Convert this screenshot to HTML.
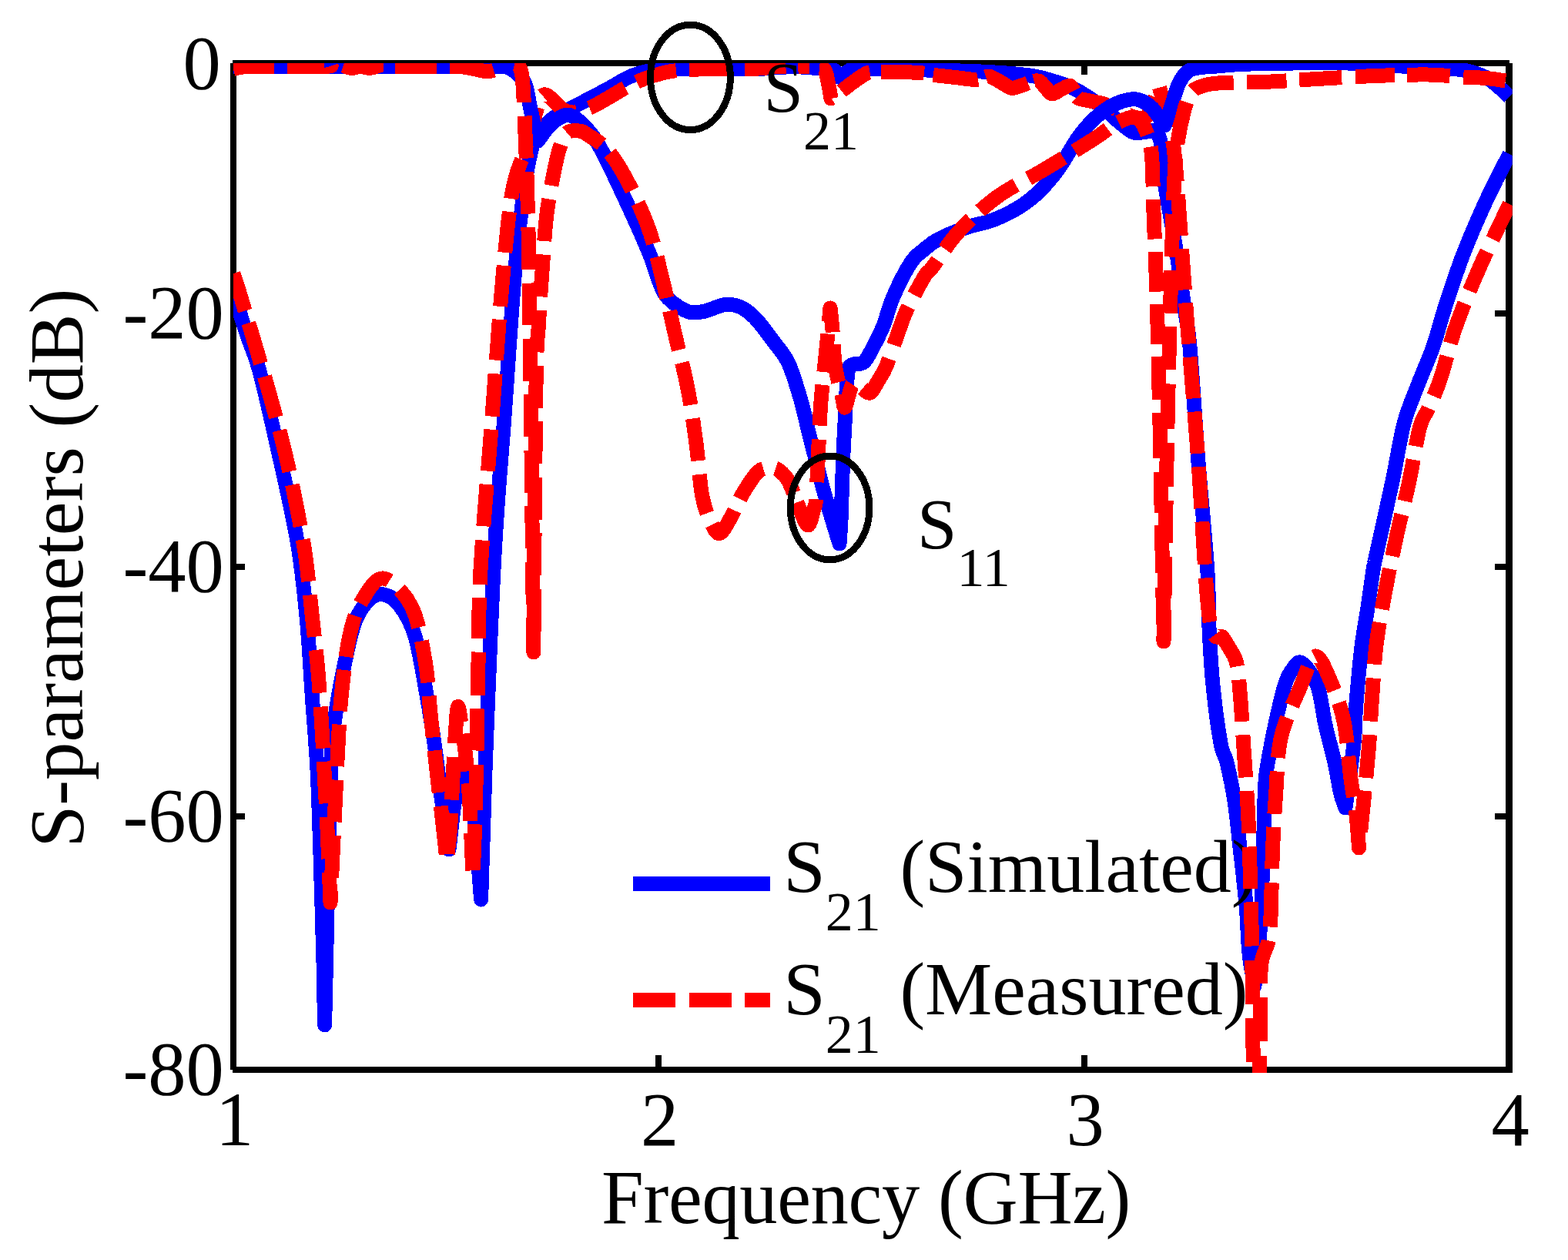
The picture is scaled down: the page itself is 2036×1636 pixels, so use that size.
<!DOCTYPE html>
<html lang="en">
<head>
<meta charset="utf-8">
<title>S-parameters (dB) versus Frequency (GHz)</title>
<style>
html,body{margin:0;padding:0;background:#fff;}
body{width:2036px;height:1636px;overflow:hidden;}
svg{display:block;}
</style>
</head>
<body>
<svg width="2036" height="1636" viewBox="0 0 2036 1636">
<defs><clipPath id="box"><rect x="303.0" y="82.0" width="1660.7" height="1311.0"/></clipPath></defs>
<rect width="2036" height="1636" fill="#fff"/>
<g fill="#000" shape-rendering="crispEdges">
<rect x="299" y="82" width="8" height="1307"/>
<rect x="302" y="78" width="1658" height="8"/>
<rect x="1955" y="82" width="9" height="1311"/>
<rect x="302" y="1385" width="1658" height="8"/>
<rect x="851.0" y="1370" width="8" height="16"/>
<rect x="851.0" y="85" width="8" height="12"/>
<rect x="1403.6" y="1370" width="8" height="16"/>
<rect x="1403.6" y="85" width="8" height="12"/>
<rect x="306" y="403.0" width="12" height="8"/>
<rect x="1941" y="403.0" width="15" height="8"/>
<rect x="306" y="732.0" width="12" height="8"/>
<rect x="1941" y="732.0" width="15" height="8"/>
<rect x="306" y="1056.0" width="12" height="8"/>
<rect x="1941" y="1056.0" width="15" height="8"/>
</g>
<g clip-path="url(#box)" shape-rendering="crispEdges">
<path d="M303.0 380.0C304.5 384.7 308.5 397.3 312.0 408.0C315.5 418.7 319.8 431.7 324.0 444.0C328.2 456.3 331.0 459.3 337.0 482.0C343.0 504.7 351.8 543.2 360.0 580.0C368.2 616.8 379.7 666.3 386.0 703.0C392.3 739.7 394.8 767.2 398.0 800.0C401.2 832.8 402.7 866.7 405.0 900.0C407.3 933.3 410.2 965.0 412.0 1000.0C413.8 1035.0 414.7 1068.3 416.0 1110.0C417.3 1151.7 419.1 1213.2 420.0 1250.0C420.9 1286.8 421.3 1317.5 421.6 1331.0C422.1 1309.2 423.3 1255.2 424.6 1200.0C425.9 1144.8 427.7 1045.8 429.6 1000.0C431.5 954.2 432.6 950.0 436.0 925.0C439.4 900.0 445.7 870.0 450.0 850.0C454.3 830.0 457.0 817.0 462.0 805.0C467.0 793.0 474.0 783.5 480.0 778.0C486.0 772.5 491.7 770.8 498.0 772.0C504.3 773.2 511.2 776.2 518.0 785.0C524.8 793.8 532.7 805.8 538.6 825.0C544.5 844.2 549.4 877.0 553.6 900.0C557.8 923.0 560.1 938.0 563.7 963.0C567.3 988.0 571.8 1026.7 575.0 1050.0C578.2 1073.3 581.7 1094.2 583.0 1103.0C584.5 1090.8 588.7 1048.5 592.0 1030.0C595.3 1011.5 599.3 990.3 603.0 992.0C606.7 993.7 610.4 1010.7 614.0 1040.0C617.6 1069.3 622.8 1146.7 624.6 1168.0C625.5 1140.0 627.1 1074.7 630.0 1000.0C632.9 925.3 637.8 796.7 642.0 720.0C646.2 643.3 650.6 600.8 655.0 540.0C659.4 479.2 664.2 403.3 668.4 355.0C672.6 306.7 676.4 276.7 680.0 250.0C683.6 223.3 686.7 208.0 690.0 195.0C693.3 182.0 695.0 179.2 700.0 172.0C705.0 164.8 712.0 157.8 720.0 152.0C728.0 146.2 736.5 143.2 747.7 137.3C758.9 131.4 775.0 123.1 787.0 116.7C799.0 110.3 809.5 103.1 820.0 98.7C830.5 94.3 841.7 92.1 850.0 90.5C858.3 88.9 847.5 89.5 870.0 89.3C892.5 89.1 962.5 89.6 985.0 89.3C1007.5 89.0 995.8 87.9 1005.0 87.5C1014.2 87.1 1030.8 86.8 1040.0 87.0C1049.2 87.2 1055.0 88.1 1060.0 88.5C1065.0 88.9 1067.0 89.2 1070.0 89.3C1073.0 89.4 1075.7 88.8 1078.0 89.3C1080.3 89.8 1082.2 90.3 1084.0 92.0C1085.8 93.7 1087.0 98.2 1088.5 99.5C1090.0 100.8 1091.2 100.4 1093.0 99.5C1094.8 98.6 1096.8 95.6 1099.0 94.0C1101.2 92.4 1103.3 90.8 1106.0 90.0C1108.7 89.2 1106.0 89.3 1115.0 89.3C1124.0 89.3 1145.3 89.7 1160.0 90.0C1174.7 90.3 1184.0 90.5 1203.0 91.0C1222.0 91.5 1251.7 91.8 1274.0 93.0C1296.3 94.2 1321.0 95.8 1337.0 98.0C1353.0 100.2 1360.8 103.3 1370.0 106.0C1379.2 108.7 1384.8 110.7 1392.0 114.0C1399.2 117.3 1405.3 120.8 1413.0 126.0C1420.7 131.2 1431.0 139.3 1438.0 145.0C1445.0 150.7 1449.3 155.5 1455.0 160.0C1460.7 164.5 1466.2 170.2 1472.0 172.0C1477.8 173.8 1485.3 171.3 1490.0 171.0C1494.7 170.7 1497.3 168.5 1500.0 170.0C1502.7 171.5 1504.5 175.3 1506.0 180.0C1507.5 184.7 1508.1 189.5 1509.0 198.0C1509.9 206.5 1510.2 220.7 1511.4 231.0C1512.6 241.3 1513.2 243.5 1516.0 260.0C1518.8 276.5 1524.3 306.7 1528.0 330.0C1531.7 353.3 1535.2 380.0 1538.0 400.0C1540.8 420.0 1542.0 416.7 1545.0 450.0C1548.0 483.3 1552.2 551.7 1556.0 600.0C1559.8 648.3 1565.5 704.2 1567.8 740.0C1570.1 775.8 1568.8 790.0 1570.0 815.0C1571.2 840.0 1572.5 865.0 1575.0 890.0C1577.5 915.0 1582.0 948.3 1585.0 965.0C1588.0 981.7 1590.0 977.5 1593.0 990.0C1596.0 1002.5 1600.2 1021.7 1603.0 1040.0C1605.8 1058.3 1607.5 1077.5 1610.0 1100.0C1612.5 1122.5 1616.0 1152.0 1618.0 1175.0C1620.0 1198.0 1620.2 1220.5 1622.0 1238.0C1623.8 1255.5 1627.8 1273.0 1629.0 1280.0C1630.3 1266.7 1634.7 1233.3 1636.7 1200.0C1638.7 1166.7 1640.0 1110.8 1641.0 1080.0C1642.0 1049.2 1641.7 1032.5 1643.0 1015.0C1644.3 997.5 1646.8 987.5 1649.0 975.0C1651.2 962.5 1652.8 954.2 1656.0 940.0C1659.2 925.8 1664.2 902.0 1668.0 890.0C1671.8 878.0 1675.2 872.8 1679.0 868.0C1682.8 863.2 1685.3 857.3 1690.6 861.0C1695.9 864.7 1705.6 876.8 1710.6 890.0C1715.6 903.2 1717.0 923.3 1720.7 940.0C1724.4 956.7 1729.7 975.0 1733.0 990.0C1736.3 1005.0 1738.4 1020.2 1740.7 1030.0C1743.0 1039.8 1746.0 1045.8 1747.0 1049.0C1748.8 1035.0 1755.7 987.3 1758.0 965.0C1760.3 942.7 1759.1 935.8 1760.8 915.0C1762.5 894.2 1765.5 860.8 1768.0 840.0C1770.5 819.2 1773.3 806.7 1775.8 790.0C1778.3 773.3 1781.3 750.8 1783.0 740.0C1784.7 729.2 1781.8 744.2 1786.0 725.0C1790.2 705.8 1801.8 654.2 1808.0 625.0C1814.2 595.8 1817.5 570.8 1823.0 550.0C1828.5 529.2 1834.7 516.7 1841.0 500.0C1847.3 483.3 1855.2 466.7 1861.0 450.0C1866.8 433.3 1869.5 420.0 1876.0 400.0C1882.5 380.0 1891.0 353.3 1900.0 330.0C1909.0 306.7 1920.0 281.7 1930.0 260.0C1940.0 238.3 1955.0 210.0 1960.0 200.0" fill="none" stroke="#0000ff" stroke-width="19" stroke-linejoin="round" stroke-linecap="butt"/>
</g>
<text x="1017.3" y="1157.8" font-size="98.1" font-family="'Liberation Serif', 'Times New Roman', serif" fill="#000">S<tspan font-size="72" dy="49.9">21</tspan><tspan dy="-49.9"> (Simulated)</tspan></text>
<text x="1017.3" y="1316.6" font-size="98.1" font-family="'Liberation Serif', 'Times New Roman', serif" fill="#000">S<tspan font-size="72" dy="49.9">21</tspan><tspan dy="-49.9"> (Measured)</tspan></text>
<g clip-path="url(#box)" shape-rendering="crispEdges">
<path d="M303.0 355.0C304.3 359.2 308.2 370.8 311.0 380.0C313.8 389.2 316.7 398.9 320.0 410.0C323.3 421.1 325.8 428.7 331.0 446.5C336.2 464.3 344.9 493.3 351.4 516.7C357.9 540.1 364.4 563.6 370.0 587.0C375.6 610.4 380.6 634.7 385.0 657.0C389.4 679.3 393.1 697.2 396.5 721.0C399.9 744.8 402.6 775.2 405.3 800.0C408.0 824.8 410.7 846.2 412.8 870.0C414.9 893.8 416.3 919.2 417.8 943.0C419.3 966.8 420.4 989.7 421.6 1013.0C422.9 1036.3 424.1 1056.5 425.3 1083.0C426.5 1109.5 428.4 1157.2 429.0 1172.0C430.7 1138.0 436.5 1014.1 439.0 968.0C441.5 921.9 441.5 919.3 444.0 895.5C446.5 871.7 449.7 844.2 454.0 825.0C458.3 805.8 462.7 792.3 470.0 780.0C477.3 767.7 487.3 749.7 498.0 751.0C508.7 752.3 525.4 769.9 534.4 787.7C543.4 805.5 547.8 834.2 552.0 858.0C556.2 881.8 556.9 906.8 559.4 930.6C561.9 954.4 564.3 976.6 567.0 1000.8C569.7 1025.0 573.5 1056.6 575.7 1076.0C577.9 1095.4 579.3 1110.2 580.0 1117.0C580.8 1110.2 583.2 1093.8 584.5 1076.0C585.8 1058.2 586.8 1031.0 588.0 1010.0C589.2 989.0 590.4 965.4 591.5 950.0C592.6 934.6 593.2 919.2 594.5 917.5C595.8 915.8 597.4 930.4 599.0 940.0C600.6 949.6 602.3 960.0 604.0 975.0C605.7 990.0 607.7 1010.8 609.0 1030.0C610.3 1049.2 611.2 1072.0 612.0 1090.0C612.8 1108.0 613.7 1130.0 614.0 1138.0C614.3 1130.0 615.4 1106.3 616.0 1090.0C616.6 1073.7 617.0 1059.2 617.5 1040.0C618.0 1020.8 618.5 1002.5 619.0 975.0C619.5 947.5 620.0 914.2 620.8 875.0C621.6 835.8 621.1 793.3 624.0 740.0C626.9 686.7 633.3 616.7 638.0 555.0C642.7 493.3 647.5 420.8 652.0 370.0C656.5 319.2 660.3 278.3 665.0 250.0C669.7 221.7 675.5 215.0 680.0 200.0C684.5 185.0 688.7 171.3 692.0 160.0C695.3 148.7 697.7 138.2 700.0 132.0C702.3 125.8 703.5 123.8 706.0 123.0C708.5 122.2 710.8 123.8 715.0 127.0C719.2 130.2 726.0 138.8 731.0 142.0C736.0 145.2 739.2 146.3 745.0 146.0C750.8 145.7 758.5 143.2 766.0 140.0C773.5 136.8 782.3 131.3 790.0 127.0C797.7 122.7 804.5 118.0 812.0 114.0C819.5 110.0 827.0 106.2 835.0 103.0C843.0 99.8 851.7 97.0 860.0 95.0C868.3 93.0 871.7 92.0 885.0 91.0C898.3 90.0 923.3 89.6 940.0 89.3C956.7 89.0 974.2 89.4 985.0 89.0C995.8 88.6 996.7 87.5 1005.0 87.0C1013.3 86.5 1025.8 86.4 1035.0 86.3C1044.2 86.2 1054.5 86.2 1060.0 86.5C1065.5 86.8 1066.0 86.9 1068.0 88.0C1070.0 89.1 1070.8 89.7 1072.0 93.0C1073.2 96.3 1074.3 102.2 1075.5 108.0C1076.7 113.8 1078.4 124.7 1079.0 128.0C1080.5 127.0 1083.5 125.3 1088.0 122.0C1092.5 118.7 1099.9 112.4 1106.0 108.0C1112.1 103.6 1119.7 97.9 1124.5 95.5C1129.3 93.1 1131.9 93.8 1135.0 93.5C1138.1 93.2 1137.0 93.6 1143.0 93.6C1149.0 93.6 1161.7 93.4 1171.0 93.6C1180.3 93.8 1192.0 94.3 1199.0 95.0C1206.0 95.7 1206.2 96.6 1213.0 97.5C1219.8 98.4 1231.2 99.5 1240.0 100.5C1248.8 101.5 1260.0 103.3 1266.0 103.4C1272.0 103.5 1272.7 101.7 1276.0 101.0C1279.3 100.3 1281.6 98.5 1285.6 99.5C1289.6 100.5 1295.4 104.5 1300.0 107.0C1304.6 109.5 1309.3 113.3 1313.0 114.2C1316.7 115.1 1319.4 113.2 1322.0 112.5C1324.6 111.8 1325.8 111.4 1328.8 110.3C1331.8 109.2 1336.6 106.8 1340.0 106.0C1343.4 105.2 1346.4 104.1 1349.4 105.4C1352.4 106.7 1355.2 111.2 1358.0 114.0C1360.8 116.8 1362.7 121.7 1366.0 122.0C1369.3 122.3 1374.2 117.8 1378.0 116.0C1381.8 114.2 1386.0 111.1 1388.7 111.3C1391.4 111.5 1392.2 114.4 1394.0 117.0C1395.8 119.6 1396.0 124.7 1399.5 127.0C1403.0 129.3 1409.4 129.7 1415.0 131.0C1420.6 132.3 1427.1 132.9 1433.0 134.8C1438.9 136.8 1443.4 139.7 1450.6 142.7C1457.8 145.7 1469.4 151.8 1476.0 153.0C1482.6 154.2 1485.2 156.8 1490.0 150.0C1494.8 143.2 1502.5 118.3 1505.0 112.0C1506.7 118.3 1511.7 135.3 1515.0 150.0C1518.3 164.7 1521.7 170.0 1525.0 200.0C1528.3 230.0 1532.2 292.5 1535.0 330.0C1537.8 367.5 1538.5 380.0 1542.0 425.0C1545.5 470.0 1551.3 537.0 1556.0 600.0C1560.7 663.0 1565.0 764.8 1570.3 802.7C1575.6 840.7 1583.6 821.5 1587.8 827.7C1592.0 833.9 1592.4 834.6 1595.3 840.0C1598.2 845.4 1602.9 849.5 1605.4 860.0C1607.9 870.5 1608.7 883.3 1610.4 903.0C1612.1 922.7 1613.7 953.0 1615.4 978.0C1617.1 1003.0 1619.1 1028.5 1620.4 1053.0C1621.7 1077.5 1622.2 1100.5 1623.0 1125.0C1623.8 1149.5 1624.4 1170.8 1625.0 1200.0C1625.6 1229.2 1626.1 1267.8 1626.5 1300.0C1626.9 1332.2 1626.7 1368.0 1627.5 1393.0C1628.3 1418.0 1630.8 1440.5 1631.5 1450.0C1632.2 1440.5 1634.7 1418.0 1635.5 1393.0C1636.3 1368.0 1636.1 1323.8 1636.5 1300.0C1636.9 1276.2 1636.2 1263.0 1638.0 1250.0C1639.8 1237.0 1645.0 1232.0 1647.0 1222.0C1649.0 1212.0 1649.1 1209.8 1650.0 1190.0C1650.9 1170.2 1651.4 1129.7 1652.5 1103.0C1653.6 1076.3 1654.9 1054.3 1656.7 1030.0C1658.5 1005.7 1658.2 980.1 1663.5 957.0C1668.8 933.9 1681.2 909.1 1688.6 891.6C1696.0 874.1 1701.4 853.1 1708.0 852.0C1714.6 850.9 1721.8 870.9 1728.0 885.0C1734.2 899.1 1740.7 916.0 1745.0 936.7C1749.3 957.4 1751.1 989.1 1753.7 1009.0C1756.3 1028.9 1759.0 1040.7 1760.8 1056.0C1762.6 1071.3 1763.9 1093.5 1764.5 1101.0C1766.5 1081.3 1773.5 1014.8 1776.3 983.0C1779.1 951.2 1779.5 934.2 1781.3 910.0C1783.1 885.8 1784.1 861.6 1787.0 837.7C1789.9 813.8 1794.6 790.1 1798.9 766.8C1803.2 743.5 1807.9 721.5 1813.0 698.0C1818.1 674.5 1824.6 649.4 1829.7 625.6C1834.8 601.8 1839.3 570.9 1843.5 555.0C1847.7 539.1 1850.4 540.8 1855.0 530.0C1859.6 519.2 1865.2 507.5 1871.0 490.0C1876.8 472.5 1881.8 448.3 1890.0 425.0C1898.2 401.7 1908.3 376.7 1920.0 350.0C1931.7 323.3 1953.3 279.2 1960.0 265.0" fill="none" stroke="#ff0000" stroke-width="19" stroke-linejoin="round" stroke-linecap="butt" stroke-dasharray="51.1 16.3 55 17.5 55 17.5 55 17.5 55 17.5 55 17.5 54.6 17.4 56 17.8 54 17.2 54.7 17.4 54.7 17.4 54.7 17.4 54.7 17.4 54.7 17.4 54.7 17.4 53.7 17.1 54.8 17.4 54.6 17.4 55.8 17.8 54.8 17.4 54 17.2 54.9 17.5 63 16.8 53 16.9 55.6 17.7 68.9 15.6 48.9 15.6 48.9 15.6 48.9 16.9 58.6 18.6 58.6 18.6 54.4 17.3 56.3 17.9 52.8 16.8 57.7 18.4 54.4 17.3 54.1 17.2 55.4 17.6 53 16.9 53.3 17 53.3 17 53.3 17 53.3 17 53.3 17 53.3 17 53.3 17 50.8 20.9 53.9 16 14.5 13.1 47.3 16.2 44.1 14.5 56 12.4 58.2 10.7 59.7 8.2 65.1 9.2 53.6 17 53.6 17 53.6 17 53.6 17 53.6 17 53.6 17 53.6 17 54.1 17.2 54.3 17.3 54.1 17.2 55.5 17.7 57.4 18.3 55.2 17.6 54.2 17.2 55.2 17.6 55.3 17.6 54.6 17.4 57.1 18.2 57.1 18.2 57.1 18.2 57.1 18.2 57.1 18.2 57.1 18.2 57.1 18.2 57.1 18.2 54.2 17.2 55.4 17.6 53.5 17 53.5 17 53.5 17 53.5 17 53.5 17 53.5 17 53.5 17 55.9 17.8 56.2 17.9 54.8 17.4 53.5 17 55.4 17.6 55 17.5 53 16.9 54.7 17.4 55.2 17.6 55.4 17.6 55 17.5 55 17.5"/>
<path d="M303.0 86.3C335.8 86.3 443.8 86.3 500.0 86.3C556.2 86.3 613.3 86.0 640.0 86.3C666.7 86.6 654.7 86.4 660.0 88.0C665.3 89.6 668.3 92.5 672.0 96.0C675.7 99.5 679.3 102.2 682.0 109.0C684.7 115.8 686.0 127.7 688.0 137.0C690.0 146.3 692.2 157.3 694.0 165.0C695.8 172.7 697.8 180.0 698.6 183.0C700.8 180.0 707.6 169.8 712.0 165.0C716.4 160.2 720.3 156.6 725.0 154.0C729.7 151.4 734.2 147.8 740.0 149.6C745.8 151.4 753.3 157.8 760.0 165.0C766.7 172.2 771.2 177.1 780.0 193.0C788.8 208.9 802.1 238.0 812.6 260.5C823.1 283.0 834.4 307.9 842.7 328.0C851.1 348.1 854.8 368.2 862.7 380.8C870.6 393.4 881.9 399.4 890.3 403.4C898.6 407.4 904.4 405.9 912.8 404.6C921.1 403.3 932.4 396.9 940.4 395.8C948.4 394.8 953.8 395.4 960.5 398.3C967.2 401.2 973.0 405.2 980.5 413.0C988.0 420.8 998.4 435.2 1005.6 445.0C1012.9 454.8 1018.3 459.5 1024.0 472.0C1029.7 484.5 1035.6 504.8 1040.0 520.0C1044.4 535.2 1047.2 549.7 1050.5 563.0C1053.8 576.3 1057.2 588.8 1060.0 600.0C1062.8 611.2 1064.3 618.3 1067.5 630.0C1070.7 641.7 1075.2 657.3 1079.0 670.0C1082.8 682.7 1088.2 700.0 1090.0 706.0C1090.3 700.8 1091.2 692.7 1092.0 675.0C1092.8 657.3 1093.7 620.8 1094.5 600.0C1095.3 579.2 1096.2 566.7 1097.0 550.0C1097.8 533.3 1098.7 512.0 1099.5 500.0C1100.3 488.0 1100.6 482.5 1102.0 478.0C1103.4 473.5 1107.0 473.8 1108.0 473.0C1110.3 472.5 1117.7 473.8 1122.0 470.0C1126.3 466.2 1129.8 457.8 1134.0 450.0C1138.2 442.2 1142.7 433.8 1147.0 423.0C1151.3 412.2 1154.0 398.7 1160.0 385.0C1166.0 371.3 1176.3 350.9 1183.0 340.7C1189.7 330.5 1194.1 329.0 1200.0 324.0C1205.9 319.0 1209.3 315.4 1218.6 310.6C1227.9 305.8 1244.1 299.2 1256.0 295.0C1267.9 290.8 1278.5 290.1 1290.0 285.6C1301.5 281.1 1315.0 274.3 1325.0 268.0C1335.0 261.7 1341.6 256.3 1350.0 248.0C1358.4 239.7 1367.0 229.7 1375.4 218.0C1383.8 206.3 1392.1 189.1 1400.5 177.8C1408.9 166.5 1417.2 157.3 1425.6 150.0C1433.9 142.7 1442.2 137.5 1450.6 134.0C1458.9 130.5 1468.2 128.0 1475.7 129.0C1483.2 130.0 1489.7 134.3 1495.7 140.0C1501.8 145.7 1509.3 159.2 1512.0 163.0C1513.5 158.8 1518.0 146.8 1521.0 138.0C1524.0 129.2 1526.5 117.5 1530.0 110.0C1533.5 102.5 1537.7 96.7 1542.0 93.0C1546.3 89.3 1549.7 89.2 1556.0 88.0C1562.3 86.8 1569.7 86.8 1580.0 86.0C1590.3 85.2 1598.0 83.9 1618.0 83.2C1638.0 82.5 1678.0 82.0 1700.0 81.8C1722.0 81.6 1735.0 81.7 1750.0 82.0C1765.0 82.3 1778.3 82.8 1790.0 83.5C1801.7 84.2 1810.0 85.3 1820.0 86.0C1830.0 86.7 1839.3 87.0 1850.0 87.5C1860.7 88.0 1874.8 88.5 1884.0 89.3C1893.2 90.0 1897.5 90.2 1905.0 92.0C1912.5 93.8 1922.3 97.0 1929.0 100.3C1935.7 103.6 1939.9 107.8 1945.0 112.0C1950.1 116.2 1957.3 123.4 1959.8 125.7" fill="none" stroke="#0000ff" stroke-width="19" stroke-linejoin="round" stroke-linecap="butt"/>
<path d="M303.0 89.5C304.8 89.1 309.5 87.7 314.0 87.2C318.5 86.7 312.3 86.5 330.0 86.3C347.7 86.1 403.3 86.6 420.0 86.3C436.7 86.0 427.0 85.1 430.0 84.5C433.0 83.9 435.3 82.4 438.0 82.5C440.7 82.6 443.7 84.2 446.0 85.0C448.3 85.8 450.0 87.0 452.0 87.5C454.0 88.0 455.3 88.5 458.0 88.3C460.7 88.1 464.3 86.5 468.0 86.5C471.7 86.5 476.3 88.4 480.0 88.3C483.7 88.2 487.2 86.8 490.0 86.0C492.8 85.2 494.5 83.8 497.0 83.5C499.5 83.2 502.3 84.0 505.0 84.5C507.7 85.0 499.7 86.0 513.0 86.3C526.3 86.6 569.7 86.1 585.0 86.3C600.3 86.5 599.2 86.8 605.0 87.5C610.8 88.2 615.3 89.6 620.0 90.5C624.7 91.4 628.8 92.8 633.0 92.7C637.2 92.6 640.8 91.5 645.0 90.0C649.2 88.5 654.2 85.3 658.0 84.0C661.8 82.7 665.2 81.3 668.0 82.0C670.8 82.7 673.2 83.3 675.0 88.0C676.8 92.7 677.7 91.3 679.0 110.0C680.3 128.7 681.8 168.3 683.0 200.0C684.2 231.7 685.0 250.0 686.0 300.0C687.0 350.0 687.9 408.8 689.0 500.0C690.1 591.2 692.2 789.2 692.8 847.0C693.3 789.2 694.9 571.2 696.0 500.0C697.1 428.8 698.2 444.7 699.5 420.0C700.8 395.3 702.3 375.0 704.0 352.0C705.7 329.0 707.2 302.3 709.5 282.0C711.8 261.7 715.0 245.4 718.0 230.0C721.0 214.6 724.4 199.0 727.6 189.3C730.8 179.6 732.9 175.2 737.0 172.0C741.1 168.8 747.7 169.5 752.0 170.0C756.3 170.5 757.0 171.0 763.0 175.0C769.0 179.0 779.7 184.5 788.0 194.0C796.3 203.5 804.0 215.0 813.0 232.0C822.0 249.0 834.2 274.3 842.0 296.0C849.8 317.7 854.4 339.7 860.0 362.0C865.6 384.3 870.1 406.7 875.5 430.0C880.9 453.3 887.8 478.3 892.5 502.0C897.2 525.7 900.2 548.2 903.5 572.0C906.8 595.8 908.4 626.7 912.0 645.0C915.6 663.3 921.1 674.2 925.0 682.0C928.9 689.8 931.2 694.0 935.4 692.0C939.6 690.0 945.1 678.7 950.0 670.0C954.9 661.3 959.2 649.7 965.0 640.0C970.8 630.3 978.9 617.4 985.0 612.0C991.1 606.6 997.0 607.7 1001.5 607.5C1006.0 607.3 1008.2 608.1 1012.0 611.0C1015.8 613.9 1019.7 616.8 1024.0 625.0C1028.3 633.2 1033.8 650.5 1038.0 660.0C1042.2 669.5 1046.2 682.0 1049.4 682.0C1052.6 682.0 1055.3 665.3 1057.0 660.0C1058.7 654.7 1058.6 660.0 1059.4 650.0C1060.2 640.0 1061.0 620.8 1062.0 600.0C1063.0 579.2 1064.2 545.8 1065.7 525.0C1067.2 504.2 1069.0 491.7 1070.7 475.0C1072.4 458.3 1074.5 437.5 1075.7 425.0C1076.9 412.5 1077.6 404.2 1078.0 400.0C1078.5 404.2 1079.6 412.5 1080.7 425.0C1081.8 437.5 1082.5 460.3 1084.5 475.0C1086.5 489.7 1090.9 504.0 1093.0 513.0C1095.1 522.0 1095.3 529.5 1097.0 529.0C1098.7 528.5 1101.2 515.2 1103.0 510.0C1104.8 504.8 1105.5 499.2 1108.0 498.0C1110.5 496.8 1114.4 501.0 1118.0 503.0C1121.6 505.0 1125.9 511.3 1129.6 510.0C1133.3 508.7 1136.4 500.8 1140.0 495.0C1143.6 489.2 1146.7 485.4 1151.0 475.0C1155.3 464.6 1161.4 445.1 1166.0 432.6C1170.6 420.1 1172.7 412.4 1178.5 400.0C1184.3 387.6 1195.8 366.7 1201.0 358.0C1206.2 349.3 1202.7 357.6 1210.0 348.0C1217.3 338.4 1230.8 316.0 1245.0 300.6C1259.2 285.2 1276.6 268.9 1295.0 255.5C1313.4 242.1 1334.5 232.9 1355.4 220.4C1376.3 207.9 1404.8 190.4 1420.6 180.3C1436.4 170.2 1440.8 164.6 1450.0 160.0C1459.2 155.4 1469.0 150.2 1475.7 152.7C1482.4 155.2 1486.7 166.3 1490.0 175.0C1493.3 183.7 1494.4 188.2 1495.7 205.0C1497.0 221.8 1497.2 251.7 1498.0 275.5C1498.8 299.3 1500.0 323.8 1500.8 348.0C1501.6 372.2 1502.0 379.0 1503.0 421.0C1504.0 463.0 1505.7 531.3 1507.0 600.0C1508.3 668.7 1510.3 794.2 1511.0 833.0C1511.7 794.2 1513.7 668.7 1515.0 600.0C1516.3 531.3 1518.0 462.7 1519.0 421.0C1520.0 379.3 1520.2 378.5 1521.0 350.0C1521.8 321.5 1522.8 276.3 1524.0 250.0C1525.2 223.7 1525.7 210.0 1528.0 192.0C1530.3 174.0 1534.7 154.2 1538.0 142.0C1541.3 129.8 1544.0 124.1 1548.0 119.0C1552.0 113.9 1557.0 113.3 1562.0 111.5C1567.0 109.7 1571.7 109.0 1578.0 108.3C1584.3 107.6 1589.0 107.6 1600.0 107.3C1611.0 107.0 1625.3 107.1 1644.0 106.3C1662.7 105.5 1688.5 103.7 1712.0 102.4C1735.5 101.1 1761.3 99.4 1785.0 98.5C1808.7 97.6 1835.2 96.8 1854.0 97.0C1872.8 97.2 1885.3 99.2 1898.0 100.0C1910.7 100.8 1920.5 100.7 1930.0 101.5C1939.5 102.3 1950.8 104.4 1955.0 105.0" fill="none" stroke="#ff0000" stroke-width="19" stroke-linejoin="round" stroke-linecap="butt" stroke-dasharray="53.1 16.9 57.6 18.3 53.7 17.1 53.7 17.1 57.7 29.1 54.9 17.5 54.9 17.5 54.9 17.5 54.9 17.5 54.9 17.5 54.9 17.5 54.9 17.5 54.9 17.5 54.9 17.5 54.9 17.5 54.9 17.5 54.9 17.5 54.9 17.5 54.9 17.5 54.9 17.5 54.9 17.5 54.9 17.5 54.9 17.5 54.9 17.5 54.9 17.5 50.4 16 56.5 18 56.3 17.9 54.8 17.4 52.3 16.6 56.2 17.9 55.2 17.6 51.6 16.4 51.6 16.4 50.5 16.1 40.7 13 69.5 22.1 55.7 17.7 53.1 16.9 49.6 15.8 49.6 15.8 49.6 15.8 49.6 15.8 62.5 18.9 53.4 17 54.7 17.4 51.3 16.3 57.5 18.3 52.8 16.8 51.7 16.5 51.7 16.5 51.7 16.5 51.7 16.5 51.7 16.5 51.7 16.5 55.4 17.6 58.2 18.5 52.6 16.7 60.9 19.4 48.2 15.3 48.2 15.3 54 17.2 55.5 17.6 57.1 18.2 58.3 18.5 55.6 17.7 55.6 17.7 55.6 17.7 55.6 17.7 55.6 17.7 54.3 17.3 51.7 16.5 55.2 17.6 51 16.2 55.5 17.7 55 17.5 55 17.5"/>
</g>
<g shape-rendering="crispEdges" fill="none" stroke-width="19">
<path d="M822 1147.6H1000" stroke="#0000ff"/>
<path d="M822 1298.5H1000" stroke="#ff0000" stroke-dasharray="55 17.5"/>
</g>
<g fill="none" stroke="#000" stroke-width="9" shape-rendering="crispEdges">
<ellipse cx="896.4" cy="100.4" rx="51.9" ry="68.2"/>
<ellipse cx="1077.6" cy="659.4" rx="51.3" ry="67.4"/>
</g>
<text x="991.4" y="145.1" font-size="92.6" font-family="'Liberation Serif', 'Times New Roman', serif" fill="#000">S<tspan font-size="72" dy="48.9">21</tspan></text>
<text x="1191.0" y="712.4" font-size="92.6" font-family="'Liberation Serif', 'Times New Roman', serif" fill="#000">S<tspan font-size="72" dy="48.9">11</tspan></text>
<text x="237.4" y="114.6" font-size="98.5" font-family="'Liberation Serif', 'Times New Roman', serif" fill="#000">0</text>
<text x="159.4" y="438.9" font-size="98.5" font-family="'Liberation Serif', 'Times New Roman', serif" fill="#000">-20</text>
<text x="159.4" y="767.9" font-size="98.5" font-family="'Liberation Serif', 'Times New Roman', serif" fill="#000">-40</text>
<text x="159.4" y="1091.9" font-size="98.5" font-family="'Liberation Serif', 'Times New Roman', serif" fill="#000">-60</text>
<text x="159.4" y="1420.9" font-size="98.5" font-family="'Liberation Serif', 'Times New Roman', serif" fill="#000">-80</text>
<text x="304.5" y="1487" font-size="98.5" text-anchor="middle" font-family="'Liberation Serif', 'Times New Roman', serif" fill="#000">1</text>
<text x="856.5" y="1487" font-size="98.5" text-anchor="middle" font-family="'Liberation Serif', 'Times New Roman', serif" fill="#000">2</text>
<text x="1409.1" y="1487" font-size="98.5" text-anchor="middle" font-family="'Liberation Serif', 'Times New Roman', serif" fill="#000">3</text>
<text x="1961.0" y="1487" font-size="98.5" text-anchor="middle" font-family="'Liberation Serif', 'Times New Roman', serif" fill="#000">4</text>
<text x="781.1" y="1587.8" font-size="98.5" textLength="687.3" font-family="'Liberation Serif', 'Times New Roman', serif" fill="#000">Frequency (GHz)</text>
<text transform="translate(107.2 1100.6) rotate(-90)" font-size="98.5" textLength="726" font-family="'Liberation Serif', 'Times New Roman', serif" fill="#000">S-parameters (dB)</text>
</svg>
</body>
</html>
